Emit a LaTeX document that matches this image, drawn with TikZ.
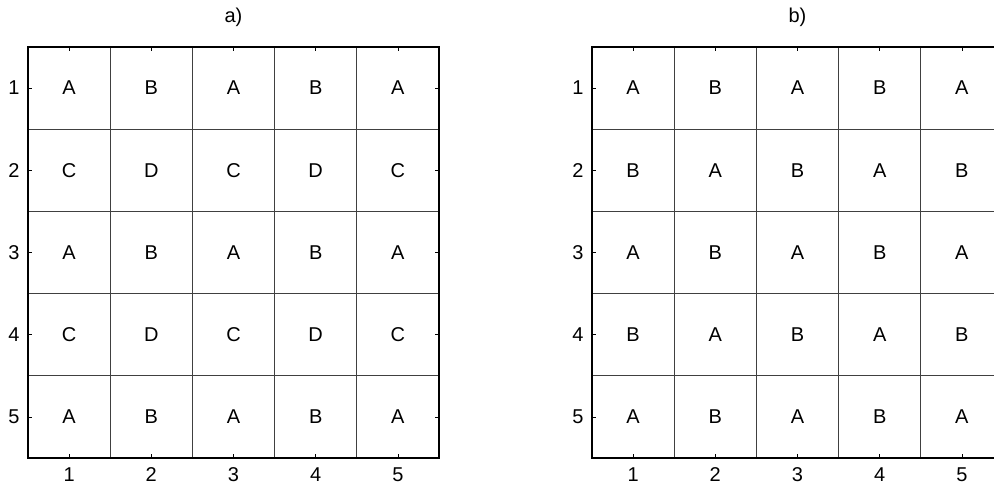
\documentclass[tikz,border=0pt]{standalone}
\usepackage{fontspec}
\setmainfont{Liberation Sans}
\begin{document}
\begin{tikzpicture}[x=1pt,y=-1pt,
  cell/.style={font=\fontsize{20}{22}\selectfont, inner sep=0pt},
  lbl/.style={font=\fontsize{20}{22}\selectfont, inner sep=0pt},
  frame/.style={line width=1.2pt, draw=black},
  gridline/.style={line width=1pt, draw=black!75},
  tick/.style={line width=0.8pt, draw=black}]
\useasboundingbox (0,0) rectangle (994,485);
\clip (0,0) rectangle (994,485);
\def\cw{82.2}
\foreach \px/\ttl/\pat in {28/a)/0, 592/b)/1} {
  \begin{scope}[shift={(\px,47)}]
    \foreach \i in {1,2,3,4} {
      \draw[gridline] (\i*\cw,0) -- (\i*\cw,5*\cw);
      \draw[gridline] (0,\i*\cw) -- (5*\cw,\i*\cw);
    }
    \foreach \i in {1,...,5} {
      \draw[tick] ({(\i-0.5)*\cw},0) -- ++(0,4);
      \draw[tick] ({(\i-0.5)*\cw},5*\cw) -- ++(0,-4);
      \draw[tick] (0,{(\i-0.5)*\cw}) -- ++(4,0);
      \draw[tick] (5*\cw,{(\i-0.5)*\cw}) -- ++(-4,0);
      \node[lbl] (xl\pat\i) at ({(\i-0.5)*\cw},428) {\i};
      \node[lbl] (yl\pat\i) at (-14,{(\i-0.5)*\cw}) {\i};
    }
    \draw[frame] (0,0) rectangle (5*\cw,5*\cw);
    \node[lbl] (title\pat) at (2.5*\cw,-30) {\ttl};
  \end{scope}
}
\foreach \r in {1,...,5} {
  \foreach \c in {1,...,5} {
    \pgfmathtruncatemacro{\ro}{mod(\r,2)}
    \pgfmathtruncatemacro{\co}{mod(\c,2)}
    \pgfmathtruncatemacro{\sa}{\ro*10+\co}
    \ifcase\sa\relax \def\la{D}\or \def\la{C}\or\or\or\or\or\or\or\or\or \def\la{B}\or \def\la{A}\fi
    \pgfmathtruncatemacro{\sb}{mod(\r+\c,2)}
    \ifnum\sb=0 \def\lb{A}\else \def\lb{B}\fi
    \node[cell] (a\r\c) at ({28+(\c-0.5)*\cw},{47+(\r-0.5)*\cw}) {\la};
    \node[cell] (b\r\c) at ({592+(\c-0.5)*\cw},{47+(\r-0.5)*\cw}) {\lb};
  }
}
\end{tikzpicture}
\end{document}
